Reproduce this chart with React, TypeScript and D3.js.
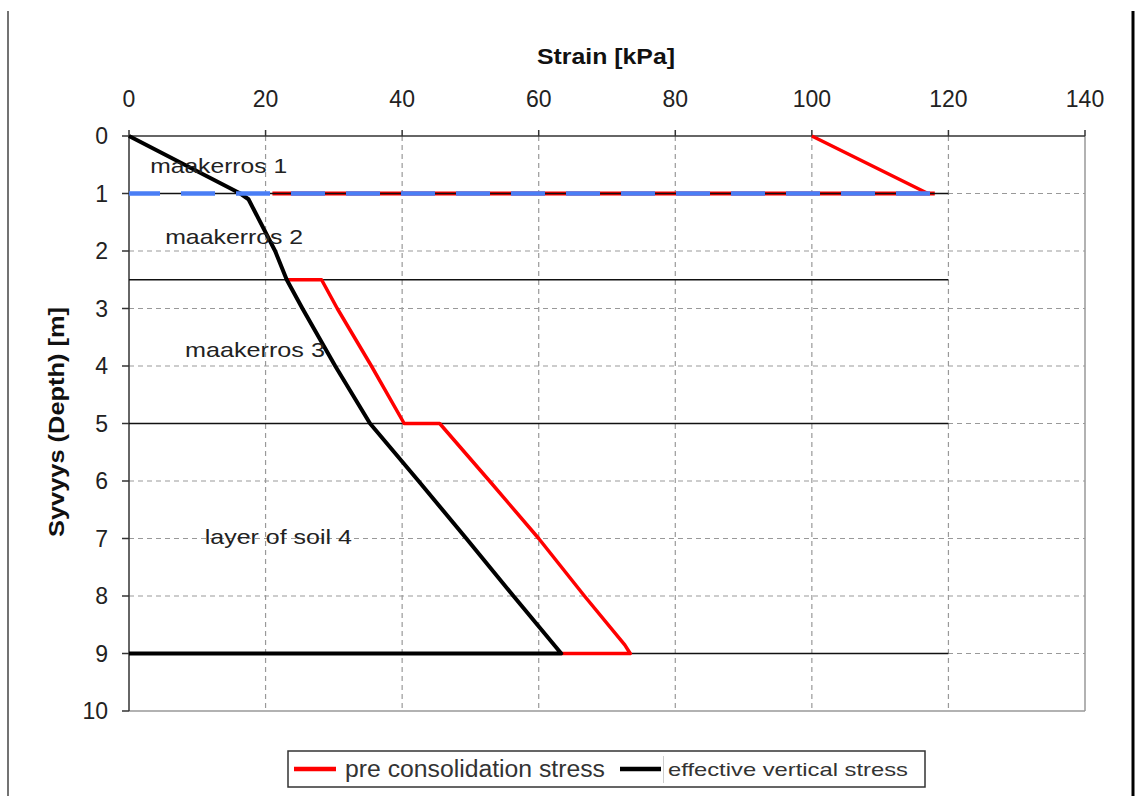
import React from "react";
import * as d3 from "d3";

// Stress axis (kPa) and depth axis (m)
const stressTicks = [0, 20, 40, 60, 80, 100, 120, 140];
const depthTicks = [0, 1, 2, 3, 4, 5, 6, 7, 8, 9, 10];

// Effective vertical stress profile
const effDepth = [0, 1, 1.1, 2, 2.5, 3, 4, 5, 6, 7, 8, 9, 9];
const effStress = [0, 16.3, 17.5, 21.4, 23.1, 25.4, 30.2, 35.3, 42.4, 49.4, 56.3, 63.3, 0];

// Pre-consolidation stress profile (NaN marks a break in the line)
const preDepth = [0, 1, NaN, 2.5, 2.5, 3, 4, 5, 5, 6, 7, 8, 8.85, 9, 9];
const preStress = [100, 117, NaN, 23.1, 28.2, 30.5, 35.5, 40.3, 45.5, 52.8, 60.0, 66.7, 72.6, 73.4, 63.3];

// Pre-consolidation plateau under the dashed marker at 1 m
const preFlatStress = [21, 118];
const preFlatDepth = 1;

// Dashed marker at 1 m
const markerStress = [0, 118];
const markerDepth = 1;

// Soil layer boundaries
const layerDepths = [1, 2.5, 5, 9];
const layerEnd = 120;

// Layer names and anchors (stress, depth of baseline)
const layerNames = ["maakerros 1", "maakerros 2", "maakerros 3", "layer of soil 4"];
const layerAnchorX = [3.1, 5.3, 8.2, 11.1];
const layerAnchorY = [0.64, 1.88, 3.85, 7.1];
const layerWidths = [137, 138, 140, 147];

const FONT = "'Liberation Sans', Arial, sans-serif";

export default function App() {
  const x = d3.scaleLinear().domain([0, 140]).range([129, 1085]);
  const y = d3.scaleLinear().domain([0, 10]).range([136, 711]);

  const effLine = d3
    .line<number>()
    .x((_, i) => x(effStress[i]))
    .y((_, i) => y(effDepth[i]));
  const preLine = d3
    .line<number>()
    .defined((_, i) => !isNaN(preDepth[i]))
    .x((_, i) => x(preStress[i]))
    .y((_, i) => y(preDepth[i]));

  const x0 = x(0);
  const x1 = x(140);
  const y0 = y(0);
  const y1 = y(10);

  return (
    <svg
      width={1136}
      height={796}
      style={{ position: "absolute", left: 0, top: 0, background: "#fff" }}
      fontFamily={FONT}
    >
      <rect x={0} y={0} width={1136} height={796} fill="#fff" />
      {/* outer frame pieces */}
      <line x1={8} x2={8} y1={11} y2={796} stroke="#444" strokeWidth={1.5} />
      <line x1={1133} x2={1133} y1={11} y2={796} stroke="#000" strokeWidth={3} />

      {/* grid */}
      {stressTicks.slice(1, -1).map((t) => (
        <line key={"gx" + t} x1={x(t)} x2={x(t)} y1={y0} y2={y1} stroke="#999" strokeWidth={1.2} strokeDasharray="5,4" />
      ))}
      {depthTicks.slice(1, -1).map((t) => (
        <line key={"gy" + t} x1={x0} x2={x1} y1={y(t)} y2={y(t)} stroke="#999" strokeWidth={1.2} strokeDasharray="5,4" />
      ))}

      {/* plot border */}
      <line x1={x1} x2={x1} y1={y0} y2={y1} stroke="#999" strokeWidth={1.5} />
      <line x1={x0} x2={x1} y1={y1} y2={y1} stroke="#999" strokeWidth={1.5} />
      <line x1={x0} x2={x1} y1={y0} y2={y0} stroke="#333" strokeWidth={1.5} />
      <line x1={x0} x2={x0} y1={y0} y2={y1} stroke="#333" strokeWidth={1.5} />

      {/* ticks and tick labels */}
      {stressTicks.map((t) => (
        <g key={"tx" + t}>
          <line x1={x(t)} x2={x(t)} y1={y0 - 6} y2={y0} stroke="#333" strokeWidth={1.5} />
          <text x={x(t)} y={y0 - 29} textAnchor="middle" fontSize={23} fill="#222">
            {t}
          </text>
        </g>
      ))}
      {depthTicks.map((t) => (
        <g key={"ty" + t}>
          <line x1={x0 - 7} x2={x0} y1={y(t)} y2={y(t)} stroke="#333" strokeWidth={1.5} />
          <text x={x0 - 21} y={y(t) + 8} textAnchor="end" fontSize={23} fill="#222">
            {t}
          </text>
        </g>
      ))}

      {/* axis titles */}
      <text x={606} y={64} textAnchor="middle" fontSize={22} fontWeight="bold" fill="#111" textLength={138} lengthAdjust="spacingAndGlyphs">
        Strain [kPa]
      </text>
      <text
        transform={`translate(64,422) rotate(-90)`}
        textAnchor="middle"
        fontSize={22}
        fontWeight="bold"
        fill="#111"
        textLength={230}
        lengthAdjust="spacingAndGlyphs"
      >
        Syvyys (Depth) [m]
      </text>

      {/* pre-consolidation plateau at 1 m */}
      <line
        x1={x(preFlatStress[0])}
        x2={x(preFlatStress[1])}
        y1={y(preFlatDepth)}
        y2={y(preFlatDepth)}
        stroke="#ff0000"
        strokeWidth={4}
      />

      {/* layer boundaries */}
      {layerDepths.map((d) => (
        <line key={"l" + d} x1={x0} x2={x(layerEnd)} y1={y(d)} y2={y(d)} stroke="#111" strokeWidth={1.5} />
      ))}

      {/* series */}
      <path d={preLine(preDepth) || ""} fill="none" stroke="#ff0000" strokeWidth={3.5} strokeLinejoin="round" />
      <path d={effLine(effDepth) || ""} fill="none" stroke="#000" strokeWidth={4} strokeLinejoin="round" />

      {/* dashed marker at 1 m */}
      <line
        x1={x(markerStress[0])}
        x2={x(markerStress[1])}
        y1={y(markerDepth)}
        y2={y(markerDepth)}
        stroke="#4a7ef5"
        strokeWidth={4.5}
        strokeDasharray="34,21"
        strokeDashoffset={3}
      />

      {/* layer names */}
      {layerNames.map((n, i) => (
        <text
          key={n}
          x={x(layerAnchorX[i])}
          y={y(layerAnchorY[i])}
          fontSize={21}
          fill="#222"
          textLength={layerWidths[i]}
          lengthAdjust="spacingAndGlyphs"
        >
          {n}
        </text>
      ))}

      {/* legend */}
      <rect x={288} y={751} width={637} height={36} fill="#fff" stroke="#333" strokeWidth={1.5} />
      <line x1={294} x2={336} y1={769} y2={769} stroke="#ff0000" strokeWidth={4.5} />
      <text x={345} y={777} fontSize={23} fill="#333" textLength={260} lengthAdjust="spacingAndGlyphs">
        pre consolidation stress
      </text>
      <line x1={620} x2={661} y1={769} y2={769} stroke="#000" strokeWidth={4.5} />
      <line x1={663.5} x2={663.5} y1={756} y2={783} stroke="#ccc" strokeWidth={1} />
      <text x={668} y={776} fontSize={19} fill="#333" textLength={240} lengthAdjust="spacingAndGlyphs">
        effective vertical stress
      </text>
    </svg>
  );
}
